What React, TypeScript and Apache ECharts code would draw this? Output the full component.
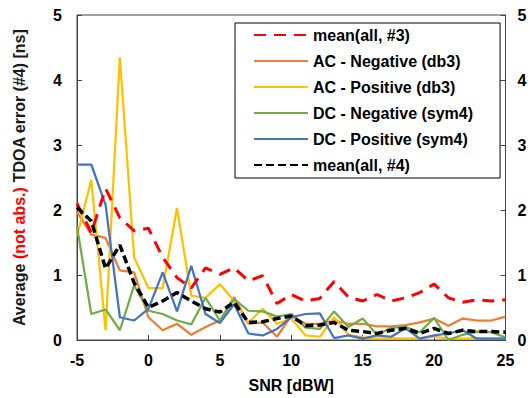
import React, { useEffect, useRef } from "react";
import * as echarts from "echarts";

const snr = [-5, -4, -3, -2, -1, 0, 1, 2, 3, 4, 5, 6, 7, 8, 9, 10, 11, 12, 13, 14, 15, 16, 17, 18, 19, 20, 21, 22, 23, 24, 25];

const meanAll3 = [2.1, 1.65, 2.33, 1.88, 1.68, 1.72, 1.27, 0.96, 0.8, 1.11, 1.01, 1.11, 0.91, 0.99, 0.56, 0.7, 0.6, 0.64, 0.9, 0.66, 0.6, 0.7, 0.6, 0.65, 0.73, 0.86, 0.65, 0.58, 0.62, 0.6, 0.62];
const acNegative = [1.97, 1.62, 1.57, 1.07, 1.04, 0.35, 0.15, 0.25, 0.08, 0.2, 0.3, 0.66, 0.25, 0.27, 0.05, 0.37, 0.25, 0.25, 0.3, 0.25, 0.25, 0.21, 0.21, 0.23, 0.27, 0.33, 0.22, 0.33, 0.3, 0.3, 0.36];
const acPositive = [1.6, 2.46, 0.15, 4.35, 1.27, 0.8, 0.8, 2.03, 0.68, 0.65, 0.86, 0.6, 0.27, 0.48, 0.25, 0.33, 0.07, 0.05, 0.35, 0.08, 0.04, 0.02, 0.03, 0.02, 0.03, 0.05, 0.02, 0.02, 0.03, 0.02, 0.02];
const dcNegative = [1.75, 0.4, 0.47, 0.15, 0.84, 0.45, 0.4, 0.3, 0.24, 0.65, 0.3, 0.63, 0.45, 0.44, 0.36, 0.4, 0.19, 0.17, 0.44, 0.2, 0.33, 0.08, 0.19, 0.2, 0.12, 0.34, 0.0, 0.08, 0.13, 0.12, 0.04];
const dcPositive = [2.7, 2.7, 2.08, 0.35, 0.3, 0.48, 1.04, 0.44, 1.14, 0.4, 0.26, 0.55, 0.1, 0.07, 0.17, 0.35, 0.4, 0.41, 0.03, 0.07, 0.02, 0.07, 0.05, 0.18, 0.02, 0.07, 0.1, 0.15, 0.02, 0.02, 0.02];
const meanAll4 = [2.04, 1.83, 1.1, 1.46, 0.88, 0.5, 0.6, 0.73, 0.6, 0.48, 0.43, 0.58, 0.27, 0.28, 0.33, 0.37, 0.22, 0.23, 0.27, 0.15, 0.13, 0.1, 0.15, 0.18, 0.1, 0.18, 0.1, 0.15, 0.13, 0.13, 0.12];

const seriesNames = [
  "mean(all, #3)",
  "AC - Negative (db3)",
  "AC - Positive (db3)",
  "DC - Negative (sym4)",
  "DC - Positive (sym4)",
  "mean(all, #4)",
];

const FONT = "'Liberation Sans', Arial, sans-serif";

function pairs(ys: number[]) {
  return snr.map((x, i) => [x, ys[i]]);
}

export default function App() {
  const ref = useRef<HTMLDivElement>(null);
  useEffect(() => {
    if (!ref.current) return;
    const chart = echarts.init(ref.current, null, { renderer: "svg" });
    const axisColor = "#444";
    const labelStyle = { color: "#000", fontWeight: "bold" as const, fontSize: 16, fontFamily: FONT };
    const lineDefs = [
      { data: meanAll3, color: "#FF0000", width: 3, dash: [12, 8] },
      { data: acNegative, color: "#ED7D31", width: 2.25, dash: "solid" },
      { data: acPositive, color: "#FFC000", width: 2.25, dash: "solid" },
      { data: dcNegative, color: "#70AD47", width: 2.25, dash: "solid" },
      { data: dcPositive, color: "#4472C4", width: 2.25, dash: "solid" },
      { data: meanAll4, color: "#000000", width: 3.5, dash: [8, 4] },
    ];
    chart.setOption({
      animation: false,
      backgroundColor: "#fff",
      grid: {
        left: 77,
        right: 24.5,
        top: 15,
        bottom: 55,
        show: true,
        borderColor: axisColor,
        borderWidth: 1,
      },
      legend: {
        orient: "vertical",
        left: 235,
        top: 23,
        padding: [4, 27, 5, 18],
        itemWidth: 54,
        itemHeight: 14,
        itemGap: 10,
        borderColor: "#000",
        borderWidth: 1,
        backgroundColor: "#fff",
        itemStyle: { opacity: 0 },
        textStyle: { color: "#000", fontWeight: "bold", fontSize: 16, fontFamily: FONT, lineHeight: 14 },
        data: seriesNames,
      },
      xAxis: {
        type: "value",
        min: -5,
        max: 25,
        interval: 5,
        name: "SNR [dBW]",
        nameLocation: "middle",
        nameGap: 37,
        nameTextStyle: { ...labelStyle },
        axisLine: { show: true, onZero: false, lineStyle: { color: axisColor, width: 1 } },
        axisTick: { show: true, inside: true, length: 5, lineStyle: { color: axisColor } },
        axisLabel: { ...labelStyle, margin: 12 },
        splitLine: { show: false },
      },
      yAxis: [
        {
          type: "value",
          min: 0,
          max: 5,
          interval: 1,
          position: "left",
          name: "Average {r|(not abs.)} TDOA error (#4) [ns]",
          nameLocation: "middle",
          nameRotate: 90,
          nameGap: 50,
          nameTextStyle: {
            color: "#1a1a1a",
            fontWeight: "bold",
            fontSize: 16,
            fontFamily: FONT,
            rich: {
              r: { color: "#FF0000", fontWeight: "bold", fontSize: 16, fontFamily: FONT },
            },
          },
          axisLine: { show: true, onZero: false, lineStyle: { color: axisColor, width: 1 } },
          axisTick: { show: true, inside: true, length: 5, lineStyle: { color: axisColor } },
          axisLabel: { ...labelStyle, margin: 15 },
          splitLine: { show: false },
        },
        {
          type: "value",
          min: 0,
          max: 5,
          interval: 1,
          position: "right",
          axisLine: { show: true, onZero: false, lineStyle: { color: axisColor, width: 1 } },
          axisTick: { show: true, inside: true, length: 5, lineStyle: { color: axisColor } },
          axisLabel: { ...labelStyle, margin: 12 },
          splitLine: { show: false },
        },
      ],
      series: lineDefs.map((d, i) => ({
        name: seriesNames[i],
        type: "line",
        yAxisIndex: 0,
        data: pairs(d.data),
        symbol: "none",
        showSymbol: false,
        color: d.color,
        lineStyle: { color: d.color, width: d.width, type: d.dash },
        z: i === 0 || i === 5 ? 3 : 2,
      })),
    });
    return () => chart.dispose();
  }, []);
  return <div ref={ref} style={{ position: "fixed", left: 0, top: 0, width: 530, height: 398 }} />;
}
